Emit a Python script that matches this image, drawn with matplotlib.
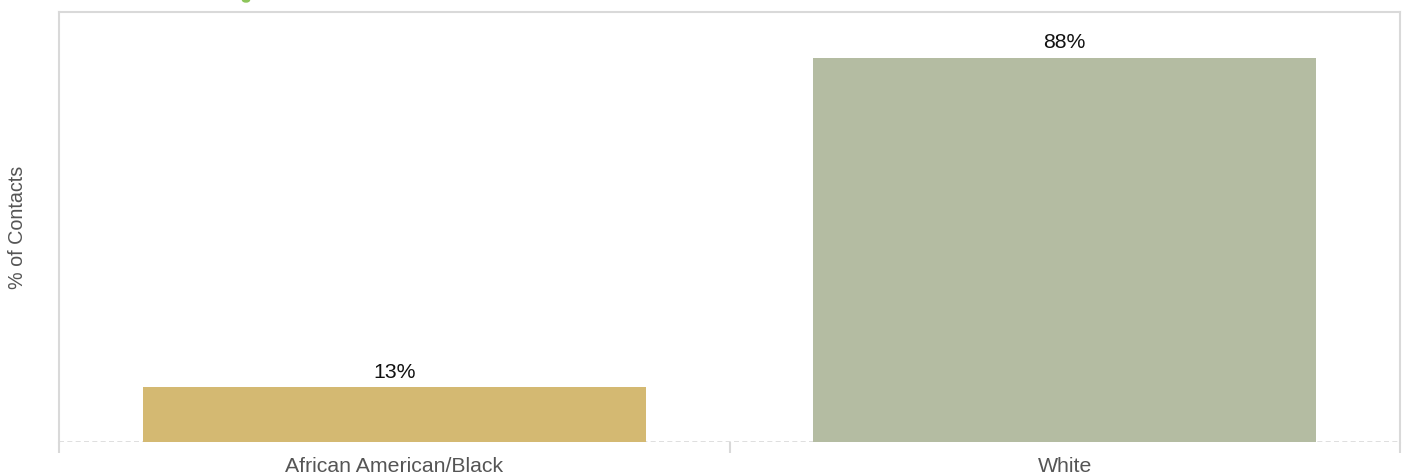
import matplotlib
matplotlib.use("Agg")
import matplotlib.pyplot as plt
from matplotlib.patches import Ellipse

categories = ["African American/Black", "White"]
values = [12.5, 87.5]
labels = ["13%", "88%"]
colors = ["#d4b972", "#b4bca2"]

plt.rcParams['font.family'] = ['Liberation Sans', 'DejaVu Sans']

W, H = 1411, 475
fig = plt.figure(figsize=(W / 100, H / 100), dpi=100)
ax = fig.add_axes([59 / W, (H - 442) / H, 1341 / W, 430 / H])

x = list(range(len(categories)))
ax.bar(x, values, width=0.75, color=colors, zorder=2)
for xi, v, lab in zip(x, values, labels):
    ax.annotate(lab, (xi, v), xytext=(0, 4), textcoords="offset points",
                ha="center", va="bottom", fontsize=15.3, color="#111111")

ax.set_xlim(-0.5, len(categories) - 0.5)
ax.set_ylim(0, 97.9)
ax.set_yticks([])

grey = "#d9d9d9"
ax.set_xticks([i - 0.5 for i in range(len(categories) + 1)])
ax.set_xticklabels([])
ax.tick_params(axis="x", which="major", length=8, width=1.5, color=grey)
ax.set_xticks(x, minor=True)
ax.set_xticklabels(categories, minor=True, fontsize=15.3, color="#555555")
ax.tick_params(axis="x", which="minor", length=0, pad=11)

for s in ["left", "right", "top"]:
    ax.spines[s].set_color(grey)
    ax.spines[s].set_linewidth(1.5)
ax.spines["bottom"].set_visible(False)
ax.axhline(0, color=grey, lw=1.2, ls=(0, (3, 2)), zorder=1)

fig.text(18 / W, 1 - 227 / H, "% of Contacts", rotation=90, ha="center",
         va="center", fontsize=14.2, color="#555555")

fig.patches.append(Ellipse((246 / W, 1 - 0 / H), 7 / W, 4 / H,
                           transform=fig.transFigure, color="#8dc55a",
                           figure=fig))

fig.savefig("out.png", dpi=100)
